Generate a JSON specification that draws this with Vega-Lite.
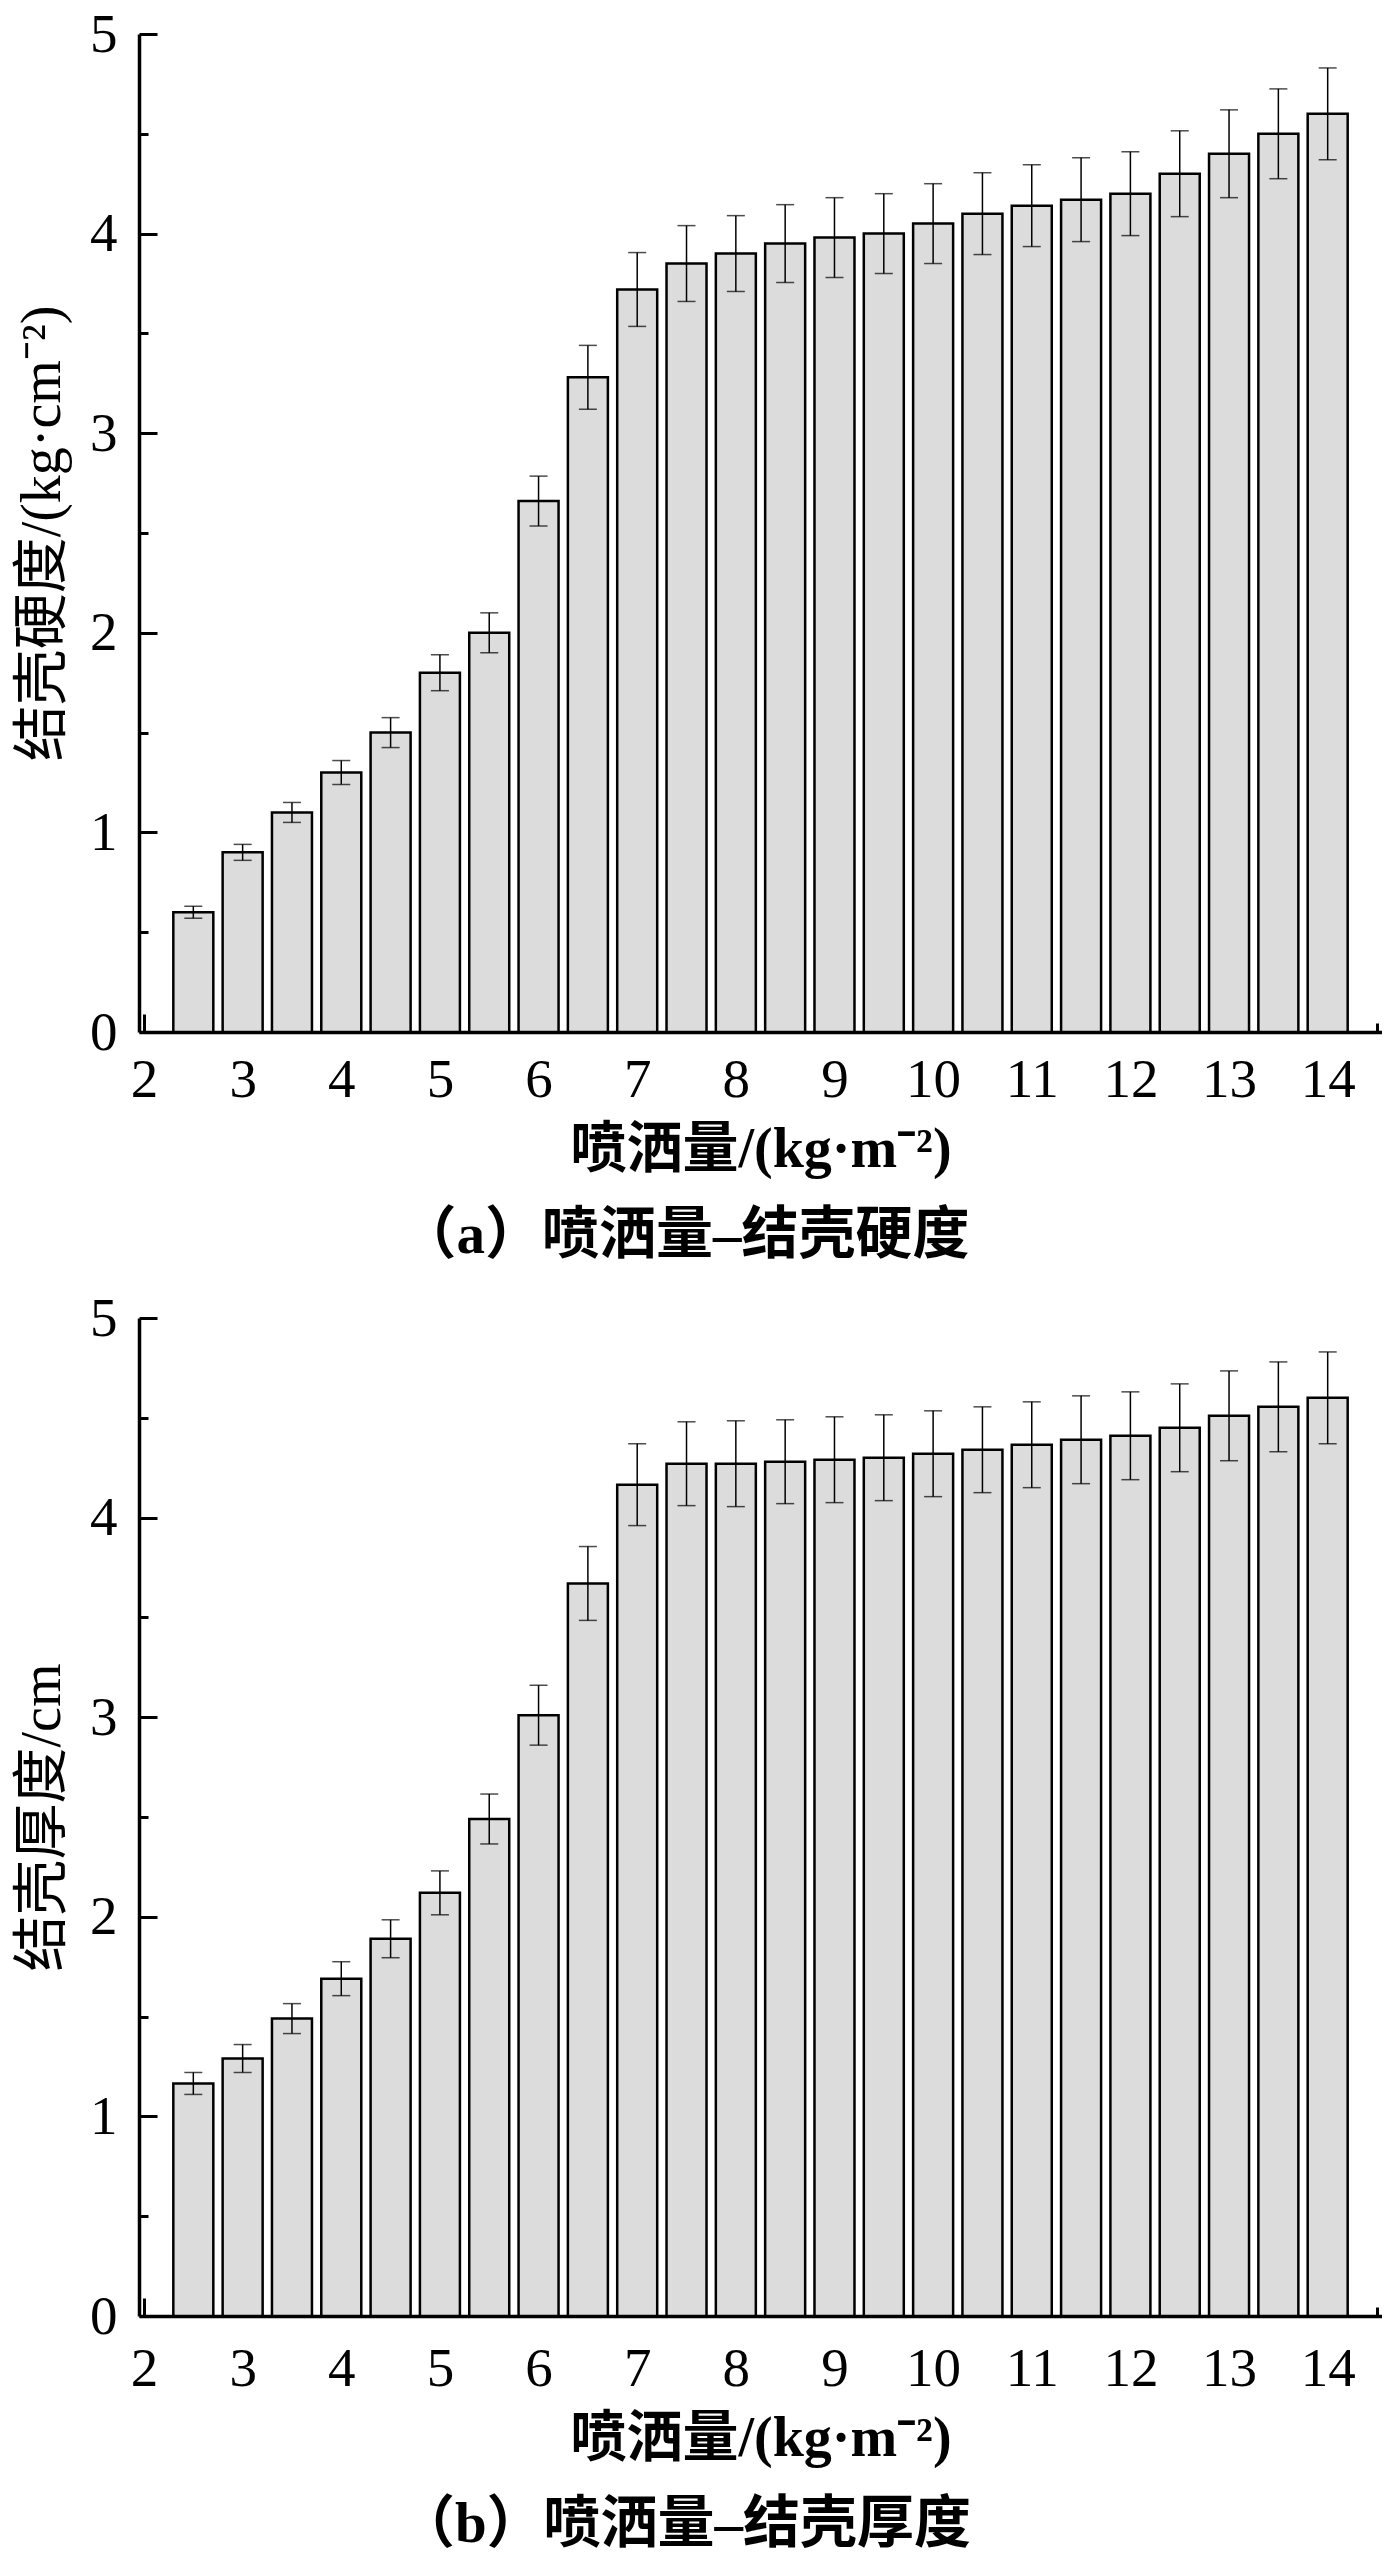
{
  "$schema": "https://vega.github.io/schema/vega-lite/v6.json",
  "background": "white",
  "padding": {"top": 7, "left": 14, "right": 0, "bottom": 0},
  "spacing": 27,
  "config": {
    "font": "Liberation Serif, Noto Sans CJK SC",
    "view": {"stroke": null},
    "axis": {
      "grid": false,
      "domainColor": "black",
      "domainWidth": 3.5,
      "tickColor": "black",
      "tickWidth": 3,
      "labelColor": "black",
      "labelFont": "Liberation Serif",
      "labelFontSize": 55,
      "titleColor": "black",
      "titleFont": "Liberation Serif, Noto Sans CJK SC",
      "titleFontSize": 56
    }
  },
  "vconcat": [
    {
      "width": 1243,
      "height": 998,
      "title": {
        "text": "（a）喷洒量–结壳硬度",
        "orient": "bottom",
        "anchor": "middle",
        "fontSize": 57,
        "fontWeight": "bold",
        "color": "black",
        "offset": 31,
        "dx": -76
      },
      "data": {
        "values": [
          {"x": 2.5, "v": 0.6, "e": 0.03},
          {"x": 3, "v": 0.9, "e": 0.04},
          {"x": 3.5, "v": 1.1, "e": 0.05},
          {"x": 4, "v": 1.3, "e": 0.06},
          {"x": 4.5, "v": 1.5, "e": 0.075},
          {"x": 5, "v": 1.8, "e": 0.09},
          {"x": 5.5, "v": 2.0, "e": 0.1},
          {"x": 6, "v": 2.66, "e": 0.125},
          {"x": 6.5, "v": 3.28, "e": 0.16},
          {"x": 7, "v": 3.72, "e": 0.185},
          {"x": 7.5, "v": 3.85, "e": 0.19},
          {"x": 8, "v": 3.9, "e": 0.19},
          {"x": 8.5, "v": 3.95, "e": 0.195},
          {"x": 9, "v": 3.98, "e": 0.2},
          {"x": 9.5, "v": 4.0, "e": 0.2},
          {"x": 10, "v": 4.05, "e": 0.2},
          {"x": 10.5, "v": 4.1, "e": 0.205},
          {"x": 11, "v": 4.14, "e": 0.205},
          {"x": 11.5, "v": 4.17, "e": 0.21},
          {"x": 12, "v": 4.2, "e": 0.21},
          {"x": 12.5, "v": 4.3, "e": 0.215},
          {"x": 13, "v": 4.4, "e": 0.22},
          {"x": 13.5, "v": 4.5, "e": 0.225},
          {"x": 14, "v": 4.6, "e": 0.23}
        ]
      },
      "layer": [
        {
          "mark": {"type": "bar", "width": 40, "fill": "#dcdcdc", "stroke": "black", "strokeWidth": 2.5},
          "encoding": {
            "x": {
              "field": "x",
              "type": "quantitative",
              "scale": {"domain": [2, 14.5], "nice": false, "zero": false},
              "axis": {
                "orient": "bottom",
                "values": [2, 3, 4, 5, 6, 7, 8, 9, 10, 11, 12, 13, 14],
                "tickSize": -18,
                "labelPadding": 39,
                "labelFlush": false,
                "title": "喷洒量/(kg·m⁻²)",
                "titleFontWeight": "bold",
                "titlePadding": 15
              }
            },
            "y": {
              "field": "v",
              "type": "quantitative",
              "scale": {"domain": [0, 5], "nice": false},
              "axis": {
                "orient": "left",
                "values": [0, 1, 2, 3, 4, 5],
                "tickSize": -18,
                "labelPadding": 40,
                "labelFlush": false,
                "title": "结壳硬度/(kg·cm⁻²)",
                "titleFontWeight": "normal",
                "titlePadding": 18
              }
            }
          }
        },
        {
          "mark": {"type": "errorbar", "ticks": {"size": 18}, "thickness": 1.5, "color": "black"},
          "encoding": {
            "x": {
              "field": "x",
              "type": "quantitative",
              "axis": {
                "orient": "bottom",
                "values": [2.5, 3.5, 4.5, 5.5, 6.5, 7.5, 8.5, 9.5, 10.5, 11.5, 12.5, 13.5, 14.5],
                "tickSize": -9,
                "labels": false,
                "domain": false,
                "title": null
              }
            },
            "y": {
              "field": "v",
              "type": "quantitative",
              "axis": {
                "orient": "left",
                "values": [0.5, 1.5, 2.5, 3.5, 4.5],
                "tickSize": -9,
                "labels": false,
                "domain": false,
                "title": null
              }
            },
            "yError": {"field": "e"}
          }
        }
      ],
      "resolve": {"axis": {"x": "independent", "y": "independent"}}
    },
    {
      "width": 1243,
      "height": 998,
      "title": {
        "text": "（b）喷洒量–结壳厚度",
        "orient": "bottom",
        "anchor": "middle",
        "fontSize": 57,
        "fontWeight": "bold",
        "color": "black",
        "offset": 31,
        "dx": -76
      },
      "data": {
        "values": [
          {"x": 2.5, "v": 1.165, "e": 0.055},
          {"x": 3, "v": 1.29, "e": 0.07},
          {"x": 3.5, "v": 1.49, "e": 0.075},
          {"x": 4, "v": 1.69, "e": 0.085},
          {"x": 4.5, "v": 1.89, "e": 0.095},
          {"x": 5, "v": 2.12, "e": 0.11},
          {"x": 5.5, "v": 2.49, "e": 0.125},
          {"x": 6, "v": 3.01, "e": 0.15},
          {"x": 6.5, "v": 3.67, "e": 0.185},
          {"x": 7, "v": 4.165, "e": 0.205},
          {"x": 7.5, "v": 4.27, "e": 0.21},
          {"x": 8, "v": 4.27, "e": 0.215},
          {"x": 8.5, "v": 4.28, "e": 0.21},
          {"x": 9, "v": 4.29, "e": 0.215},
          {"x": 9.5, "v": 4.3, "e": 0.215},
          {"x": 10, "v": 4.32, "e": 0.215},
          {"x": 10.5, "v": 4.34, "e": 0.215},
          {"x": 11, "v": 4.365, "e": 0.215},
          {"x": 11.5, "v": 4.39, "e": 0.22},
          {"x": 12, "v": 4.41, "e": 0.22},
          {"x": 12.5, "v": 4.45, "e": 0.22},
          {"x": 13, "v": 4.51, "e": 0.225},
          {"x": 13.5, "v": 4.555, "e": 0.225},
          {"x": 14, "v": 4.6, "e": 0.23}
        ]
      },
      "layer": [
        {
          "mark": {"type": "bar", "width": 40, "fill": "#dcdcdc", "stroke": "black", "strokeWidth": 2.5},
          "encoding": {
            "x": {
              "field": "x",
              "type": "quantitative",
              "scale": {"domain": [2, 14.5], "nice": false, "zero": false},
              "axis": {
                "orient": "bottom",
                "values": [2, 3, 4, 5, 6, 7, 8, 9, 10, 11, 12, 13, 14],
                "tickSize": -18,
                "labelPadding": 44,
                "labelFlush": false,
                "title": "喷洒量/(kg·m⁻²)",
                "titleFontWeight": "bold",
                "titlePadding": 15
              }
            },
            "y": {
              "field": "v",
              "type": "quantitative",
              "scale": {"domain": [0, 5], "nice": false},
              "axis": {
                "orient": "left",
                "values": [0, 1, 2, 3, 4, 5],
                "tickSize": -18,
                "labelPadding": 40,
                "labelFlush": false,
                "title": "结壳厚度/cm",
                "titleFontWeight": "normal",
                "titlePadding": 18
              }
            }
          }
        },
        {
          "mark": {"type": "errorbar", "ticks": {"size": 18}, "thickness": 1.5, "color": "black"},
          "encoding": {
            "x": {
              "field": "x",
              "type": "quantitative",
              "axis": {
                "orient": "bottom",
                "values": [2.5, 3.5, 4.5, 5.5, 6.5, 7.5, 8.5, 9.5, 10.5, 11.5, 12.5, 13.5, 14.5],
                "tickSize": -9,
                "labels": false,
                "domain": false,
                "title": null
              }
            },
            "y": {
              "field": "v",
              "type": "quantitative",
              "axis": {
                "orient": "left",
                "values": [0.5, 1.5, 2.5, 3.5, 4.5],
                "tickSize": -9,
                "labels": false,
                "domain": false,
                "title": null
              }
            },
            "yError": {"field": "e"}
          }
        }
      ],
      "resolve": {"axis": {"x": "independent", "y": "independent"}}
    }
  ]
}
